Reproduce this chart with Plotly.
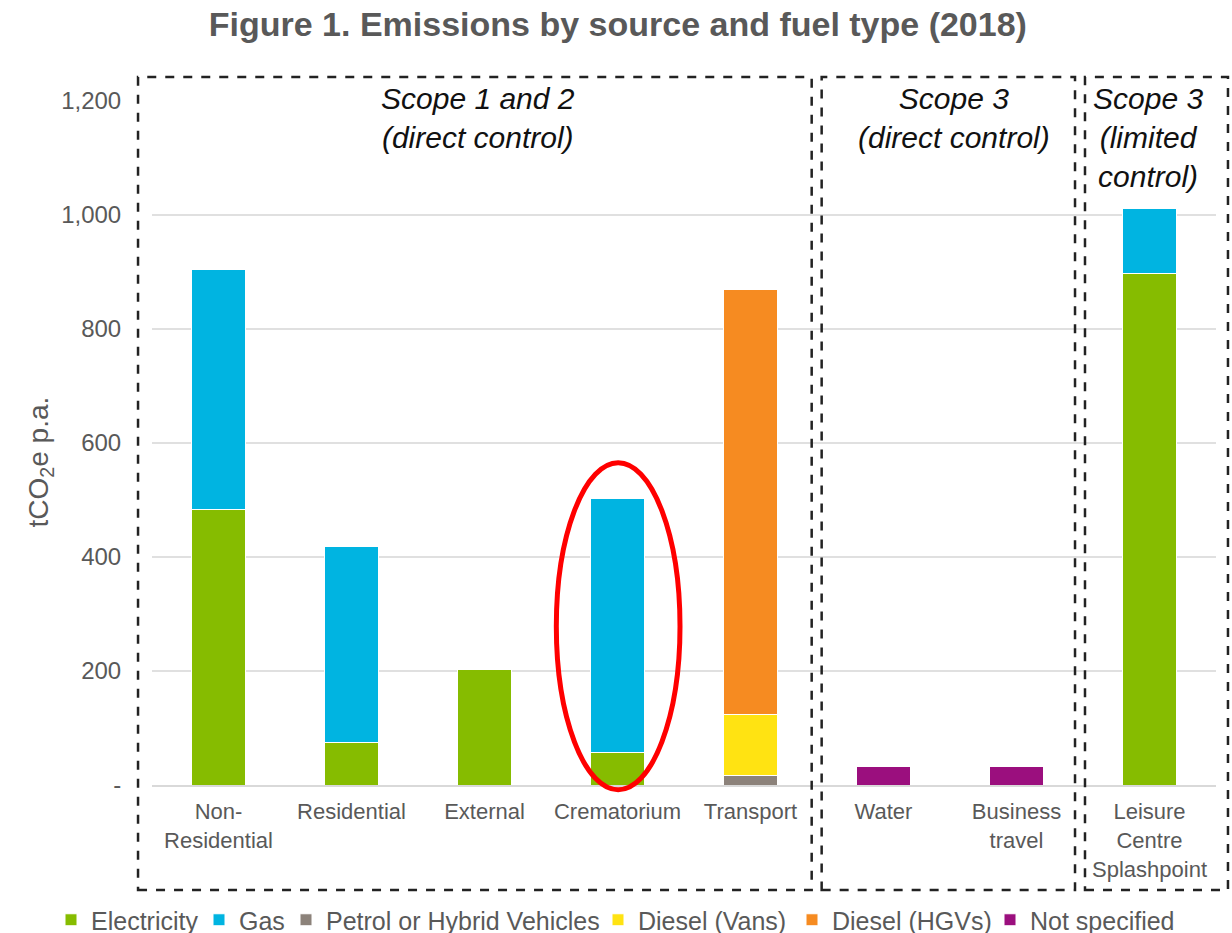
import plotly.graph_objects as go

categories = ["Non-<br>Residential", "Residential", "External", "Crematorium", "Transport",
              "Water", "Business<br>travel", "Leisure<br>Centre<br>Splashpoint"]

electricity = [483, 74, 202, 57, None, None, None, 897]
gas = [421, 344, None, 446, None, None, None, 114]
petrol = [None, None, None, None, 16, None, None, None]
diesel_vans = [None, None, None, None, 108, None, None, None]
diesel_hgvs = [None, None, None, None, 746, None, None, None]
not_specified = [None, None, None, None, None, 32, 32, None]

series = [
    ("Electricity", electricity, "#86BC00"),
    ("Gas", gas, "#00B4E1"),
    ("Petrol or Hybrid Vehicles", petrol, "#8C827A"),
    ("Diesel (Vans)", diesel_vans, "#FFE312"),
    ("Diesel (HGVs)", diesel_hgvs, "#F68B21"),
    ("Not specified", not_specified, "#9B0F7E"),
]

y_ticks = [0, 200, 400, 600, 800, 1000, 1200]
y_tick_labels = ["-", "200", "400", "600", "800", "1,000", "1,200"]

FONT = "Liberation Sans, Arial, sans-serif"
GREY = "#595959"
W, H = 1232, 933

x_idx = list(range(len(categories)))

# legend entry anchor positions (pixels, container)
legend_px = [71, 219, 306, 618, 812, 1010]

fig = go.Figure()
legend_layouts = {}
for i, (name, vals, col) in enumerate(series):
    lname = "legend" if i == 0 else f"legend{i + 1}"
    fig.add_trace(go.Bar(
        x=x_idx, y=vals, name=name, legend=lname,
        marker=dict(color=col, line=dict(color="white", width=1)),
        width=0.4,
    ))
    legend_layouts[lname] = dict(
        orientation="h", xref="container", yref="container",
        x=(legend_px[i] - 20) / W, xanchor="left", y=1 - 920 / H, yanchor="middle",
        font=dict(family=FONT, size=25, color=GREY), itemwidth=30,
        bgcolor="rgba(0,0,0,0)", borderwidth=0,
    )

n = len(categories)
def px(c):
    # category units -> paper x
    return (c + 0.5) / n

# scope boxes (in category units)
boxes = [(-0.605, 4.46), (4.535, 6.44), (6.515, 7.59)]
for x0, x1 in boxes:
    fig.add_shape(type="rect", xref="paper", yref="paper",
                  x0=px(x0), x1=px(x1), y0=-0.1535, y1=1.035,
                  line=dict(color="#222222", width=2.5, dash="dash"))

scope_labels = [
    (1.95, "Scope 1 and 2<br>(direct control)"),
    (5.53, "Scope 3<br>(direct control)"),
    (6.99, "Scope 3<br>(limited<br>control)"),
]
for cx, txt in scope_labels:
    fig.add_annotation(xref="paper", yref="paper", x=px(cx), y=1.03,
                       xanchor="center", yanchor="top", text=txt, showarrow=False,
                       font=dict(family=FONT, size=30, color="#111111", style="italic"))

# highlight ellipse around Crematorium
fig.add_shape(type="circle", xref="paper", yref="paper",
              x0=px(2.54), x1=px(3.47), y0=-0.007, y1=0.471,
              line=dict(color="#FF0000", width=5))

fig.add_annotation(xref="paper", yref="paper", x=-0.105, y=0.472,
                   text="tCO<sub>2</sub>e p.a.", textangle=-90, showarrow=False,
                   xanchor="center", yanchor="middle",
                   font=dict(family=FONT, size=28, color=GREY))

fig.update_layout(
    width=W, height=H,
    margin=dict(l=152, r=16, t=101, b=148, autoexpand=False),
    paper_bgcolor="white", plot_bgcolor="white",
    barmode="stack",
    font=dict(family=FONT, color=GREY),
    title=dict(text="<b>Figure 1. Emissions by source and fuel type (2018)</b>",
               x=0.5015, xanchor="center", xref="container",
               y=1 - 24 / H, yanchor="middle", yref="container",
               font=dict(family=FONT, size=34, color=GREY)),
    showlegend=True,
    xaxis=dict(tickmode="array", tickvals=x_idx, ticktext=categories,
               range=[-0.5, n - 0.5], showgrid=False, showline=True,
               linecolor="#D9D9D9", linewidth=2,
               ticks="outside", ticklen=6, tickcolor="rgba(0,0,0,0)",
               tickfont=dict(family=FONT, size=22, color=GREY)),
    yaxis=dict(range=[0, 1200], tickmode="array", tickvals=y_ticks, ticktext=y_tick_labels,
               showgrid=True, gridcolor="#E0E0E0", gridwidth=2, zeroline=False,
               ticks="outside", ticklen=25, tickcolor="rgba(0,0,0,0)",
               tickfont=dict(family=FONT, size=24, color=GREY)),
    **legend_layouts,
)

fig.write_html("out.html", config={"displayModeBar": False},
               post_script="document.body.style.margin='0';document.body.style.overflow='hidden';")
